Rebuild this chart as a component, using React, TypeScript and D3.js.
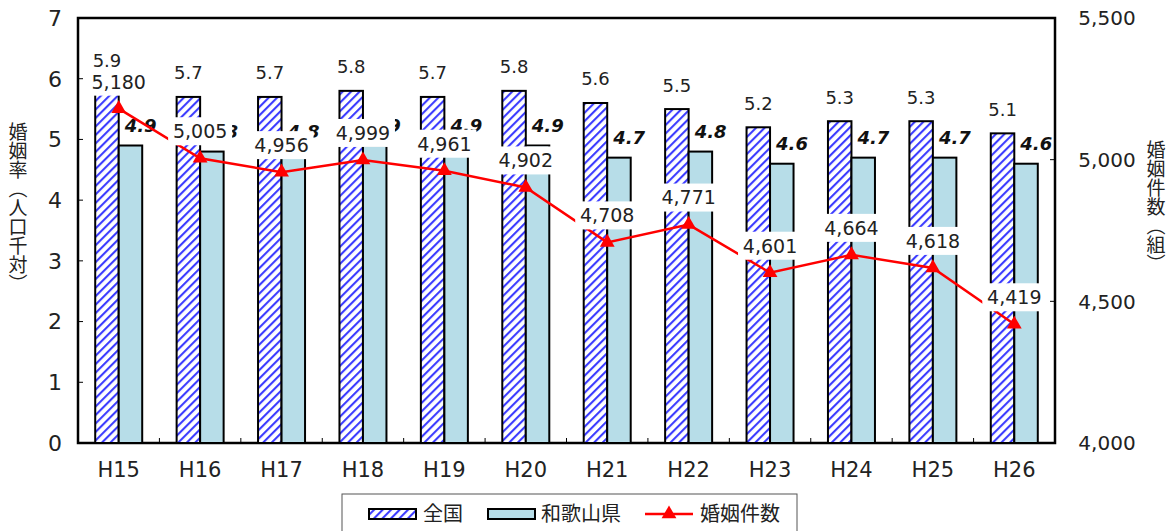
import React, { useEffect, useRef } from 'react';
import * as d3 from 'd3';

const years = ['H15', 'H16', 'H17', 'H18', 'H19', 'H20', 'H21', 'H22', 'H23', 'H24', 'H25', 'H26'];
const nationalRate = [5.9, 5.7, 5.7, 5.8, 5.7, 5.8, 5.6, 5.5, 5.2, 5.3, 5.3, 5.1];
const wakayamaRate = [4.9, 4.8, 4.8, 4.9, 4.9, 4.9, 4.7, 4.8, 4.6, 4.7, 4.7, 4.6];
const marriages = [5180, 5005, 4956, 4999, 4961, 4902, 4708, 4771, 4601, 4664, 4618, 4419];
const leftTicks = [0, 1, 2, 3, 4, 5, 6, 7];
const rightTicks = [4000, 4500, 5000, 5500];

const JP = '"Noto Sans CJK JP", "Noto Sans", sans-serif';
const NUM = '"DejaVu Sans", "Noto Sans", sans-serif';

export default function App() {
  const svgRef = useRef<SVGSVGElement>(null);
  const width = 1174;
  const height = 531;

  useEffect(() => {
    if (!svgRef.current) return;
    const svg = d3.select(svgRef.current);
    svg.selectAll('*').remove();

    const left = 78, right = 1055, top = 18, bottom = 443;

    const x = d3.scaleBand<string>().domain(years).range([left, right]).padding(0);
    const yL = d3.scaleLinear().domain([0, 7]).range([bottom, top]);
    const yR = d3.scaleLinear().domain([4000, 5500]).range([bottom, top]);
    const barW = 23.5;
    const cx = (i: number) => x(years[i])! + x.bandwidth() / 2;

    // hatch pattern for 全国
    const defs = svg.append('defs');
    const pat = defs.append('pattern')
      .attr('id', 'hatch')
      .attr('patternUnits', 'userSpaceOnUse')
      .attr('width', 6)
      .attr('height', 6)
      .attr('patternTransform', 'rotate(45)');
    pat.append('rect').attr('width', 6).attr('height', 6).attr('fill', '#fff');
    pat.append('rect').attr('x', 0).attr('width', 2.1).attr('height', 6).attr('fill', '#3c3cff');

    // plot frame
    svg.append('rect')
      .attr('x', left).attr('y', top)
      .attr('width', right - left).attr('height', bottom - top)
      .attr('fill', 'none').attr('stroke', '#000').attr('stroke-width', 2.5);

    // ticks (inside) and tick labels
    const g = svg.append('g');
    leftTicks.forEach(t => {
      g.append('line').attr('x1', left).attr('x2', left + 5)
        .attr('y1', yL(t)).attr('y2', yL(t)).attr('stroke', '#000').attr('stroke-width', 1);
      g.append('text').attr('x', 55).attr('y', yL(t)).attr('dy', '0.36em')
        .attr('text-anchor', 'middle').attr('font-size', 22).attr('font-family', NUM)
        .attr('fill', '#222').text(String(t));
    });
    rightTicks.forEach(t => {
      g.append('line').attr('x1', right - 5).attr('x2', right)
        .attr('y1', yR(t)).attr('y2', yR(t)).attr('stroke', '#000').attr('stroke-width', 1);
      g.append('text').attr('x', 1107).attr('y', yR(t)).attr('dy', '0.36em')
        .attr('text-anchor', 'middle').attr('font-size', 20).attr('font-family', NUM)
        .attr('fill', '#222').text(d3.format(',')(t));
    });
    years.forEach((yr, i) => {
      if (i > 0) {
        g.append('line').attr('x1', x(yr)!).attr('x2', x(yr)!)
          .attr('y1', bottom).attr('y2', bottom - 5).attr('stroke', '#000').attr('stroke-width', 1);
      }
      g.append('text').attr('x', cx(i)).attr('y', 469).attr('dy', '0.36em')
        .attr('text-anchor', 'middle').attr('font-size', 21).attr('font-family', NUM)
        .attr('fill', '#222').text(yr);
    });

    // bars
    const bars = svg.append('g');
    bars.selectAll('rect.nat')
      .data(nationalRate)
      .enter().append('rect')
      .attr('class', 'nat')
      .attr('x', (d, i) => cx(i) - barW)
      .attr('y', d => yL(d))
      .attr('width', barW)
      .attr('height', d => bottom - yL(d))
      .attr('fill', 'url(#hatch)')
      .attr('stroke', '#000').attr('stroke-width', 2);
    bars.selectAll('rect.wak')
      .data(wakayamaRate)
      .enter().append('rect')
      .attr('class', 'wak')
      .attr('x', (d, i) => cx(i))
      .attr('y', d => yL(d))
      .attr('width', barW)
      .attr('height', d => bottom - yL(d))
      .attr('fill', '#b7dde8')
      .attr('stroke', '#000').attr('stroke-width', 2);

    // bar labels
    bars.selectAll('text.natl')
      .data(nationalRate)
      .enter().append('text')
      .attr('x', (d, i) => cx(i) - barW / 2)
      .attr('y', d => yL(d) - 24)
      .attr('dy', '0.36em')
      .attr('text-anchor', 'middle')
      .attr('font-size', 18).attr('font-family', NUM).attr('fill', '#222')
      .text(d => d.toFixed(1));
    bars.selectAll('text.wakl')
      .data(wakayamaRate)
      .enter().append('text')
      .attr('x', (d, i) => cx(i) + 22)
      .attr('y', d => yL(d) - 20)
      .attr('dy', '0.36em')
      .attr('text-anchor', 'middle')
      .attr('font-size', 18).attr('font-weight', 'bold').attr('font-style', 'italic')
      .attr('font-family', NUM).attr('fill', '#111')
      .text(d => d.toFixed(1));

    // marriages line
    const line = d3.line<number>()
      .x((d, i) => cx(i))
      .y(d => yR(d));
    svg.append('path')
      .datum(marriages)
      .attr('d', line)
      .attr('fill', 'none')
      .attr('stroke', '#ff0000')
      .attr('stroke-width', 2.5);
    const tri = d3.symbol().type(d3.symbolTriangle).size(95);
    svg.selectAll('path.mk')
      .data(marriages)
      .enter().append('path')
      .attr('class', 'mk')
      .attr('d', tri)
      .attr('transform', (d, i) => `translate(${cx(i)},${yR(d)})`)
      .attr('fill', '#ff0000');

    // line labels on white boxes
    const lab = svg.append('g');
    marriages.forEach((d, i) => {
      const lx = cx(i);
      const ly = yR(d) - 27;
      lab.append('rect')
        .attr('x', lx - 32).attr('y', ly - 14)
        .attr('width', 64).attr('height', 28)
        .attr('fill', '#fff');
      lab.append('text')
        .attr('x', lx).attr('y', ly).attr('dy', '0.36em')
        .attr('text-anchor', 'middle')
        .attr('font-size', 19).attr('font-family', NUM).attr('fill', '#222')
        .text(d3.format(',')(d));
    });

    // vertical axis titles
    const vt = (xPos: number, yPos: number, s: string) => {
      svg.append('text')
        .attr('x', xPos).attr('y', yPos)
        .style('writing-mode', 'vertical-rl')
        .style('text-orientation', 'upright')
        .attr('font-size', 19).attr('font-family', JP).attr('fill', '#222')
        .attr('text-anchor', 'start')
        .text(s);
    };
    vt(18, 122, '婚姻率（人口千対）');
    vt(1156, 140, '婚姻件数（組）');

    // legend
    const lg = svg.append('g');
    lg.append('rect')
      .attr('x', 342).attr('y', 494)
      .attr('width', 455).attr('height', 44)
      .attr('fill', '#fff').attr('stroke', '#555').attr('stroke-width', 1);
    const ly = 514;
    lg.append('rect').attr('x', 369).attr('y', ly - 5).attr('width', 47).attr('height', 10)
      .attr('fill', 'url(#hatch)').attr('stroke', '#000').attr('stroke-width', 2);
    lg.append('text').attr('x', 423).attr('y', ly).attr('dy', '0.36em')
      .attr('font-size', 20).attr('font-family', JP).attr('fill', '#222').text('全国');
    lg.append('rect').attr('x', 488).attr('y', ly - 5).attr('width', 47).attr('height', 10)
      .attr('fill', '#b7dde8').attr('stroke', '#000').attr('stroke-width', 2);
    lg.append('text').attr('x', 541).attr('y', ly).attr('dy', '0.36em')
      .attr('font-size', 20).attr('font-family', JP).attr('fill', '#222').text('和歌山県');
    lg.append('line').attr('x1', 645).attr('x2', 693).attr('y1', ly).attr('y2', ly)
      .attr('stroke', '#ff0000').attr('stroke-width', 2.5);
    lg.append('path').attr('d', tri).attr('transform', `translate(669,${ly})`).attr('fill', '#ff0000');
    lg.append('text').attr('x', 700).attr('y', ly).attr('dy', '0.36em')
      .attr('font-size', 20).attr('font-family', JP).attr('fill', '#222').text('婚姻件数');
  }, []);

  return (
    <svg
      ref={svgRef}
      width={width}
      height={height}
      style={{ position: 'absolute', left: 0, top: 0, background: '#fff' }}
    />
  );
}
